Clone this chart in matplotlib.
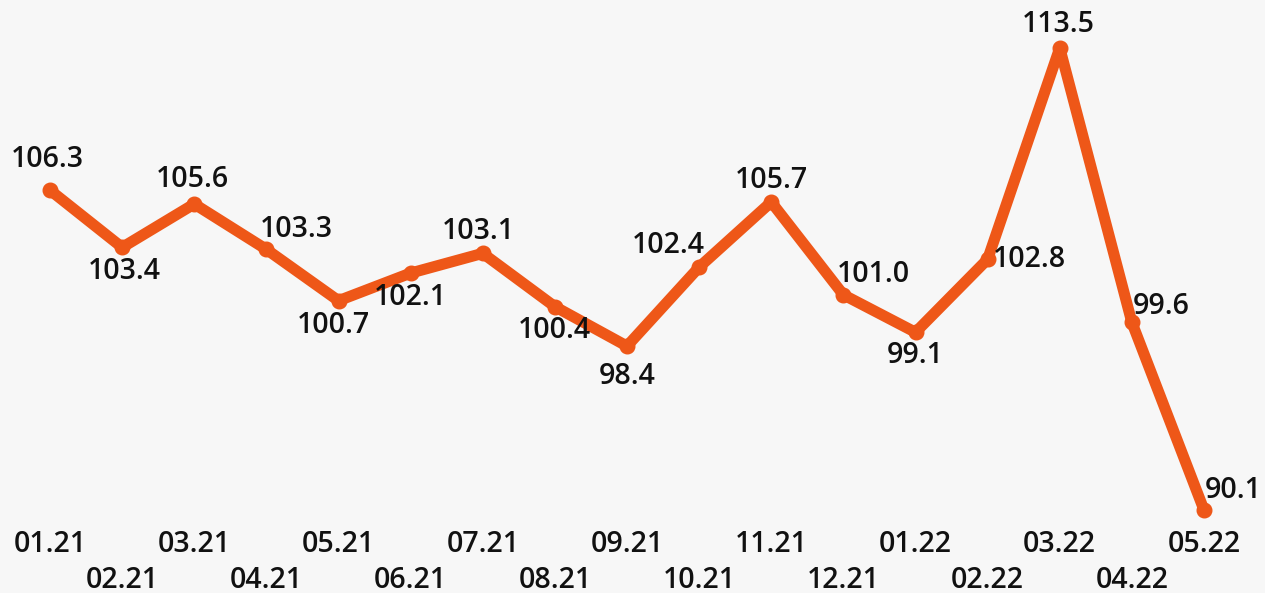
import matplotlib
matplotlib.use("Agg")
import matplotlib.pyplot as plt

months = ["01.21", "02.21", "03.21", "04.21", "05.21", "06.21", "07.21", "08.21",
          "09.21", "10.21", "11.21", "12.21", "01.22", "02.22", "03.22", "04.22", "05.22"]
values = [106.3, 103.4, 105.6, 103.3, 100.7, 102.1, 103.1, 100.4,
          98.4, 102.4, 105.7, 101.0, 99.1, 102.8, 113.5, 99.6, 90.1]
value_labels = ["106.3", "103.4", "105.6", "103.3", "100.7", "102.1", "103.1", "100.4",
                "98.4", "102.4", "105.7", "101.0", "99.1", "102.8", "113.5", "99.6", "90.1"]

# label offsets in pixels (dx, dy up)
offsets_px = [(-3, 31), (2, -24), (-2, 24), (30, 20), (-5, -25), (0, -24), (-4, 22), (-1, -24),
              (0, -30), (-31, 22), (0, 22), (30, 20), (0, -23), (42, 0), (-1, 23), (29, 16), (29, 20)]

BG = "#f7f7f7"
ORANGE = "#ee5718"
TXT = "#111111"

plt.rcParams['font.family'] = ['Open Sans', 'DejaVu Sans']

fig = plt.figure(figsize=(12.65, 5.93), dpi=100, facecolor=BG)
ax = fig.add_axes([0, 0, 1, 1])
ax.set_facecolor(BG)

x = list(range(len(values)))
ax.plot(x, values, color=ORANGE, lw=8, solid_capstyle='round', solid_joinstyle='round',
        marker='o', markersize=10.5, markerfacecolor=ORANGE, markeredgecolor=ORANGE, zorder=3)

for xi, v, lab, (dx, dy) in zip(x, values, value_labels, offsets_px):
    ax.annotate(lab, (xi, v), xytext=(dx * 0.72, dy * 0.72), textcoords='offset points',
                ha='center', va='center', fontsize=20.5, color=TXT, fontweight='semibold', zorder=4)

px_per_idx = (1204 - 50) / 16
ax.set_xlim(-50 / px_per_idx, 16 + (1265 - 1204) / px_per_idx)
px_per_unit = (510 - 48) / (113.5 - 90.1)
ax.set_ylim(90.1 - (593 - 510) / px_per_unit, 90.1 + 510 / px_per_unit)

ax.set_xticks([])
ax.set_yticks([])
for s in ax.spines.values():
    s.set_visible(False)

# staggered month labels
for xi, m in zip(x, months):
    ypix = 545 if xi % 2 == 0 else 580
    ax.text(xi, 1 - ypix / 593, m, transform=ax.get_xaxis_transform(), ha='center', va='center',
            fontsize=20.5, color=TXT, fontweight='semibold')

fig.savefig("out.png", dpi=100, facecolor=BG)
